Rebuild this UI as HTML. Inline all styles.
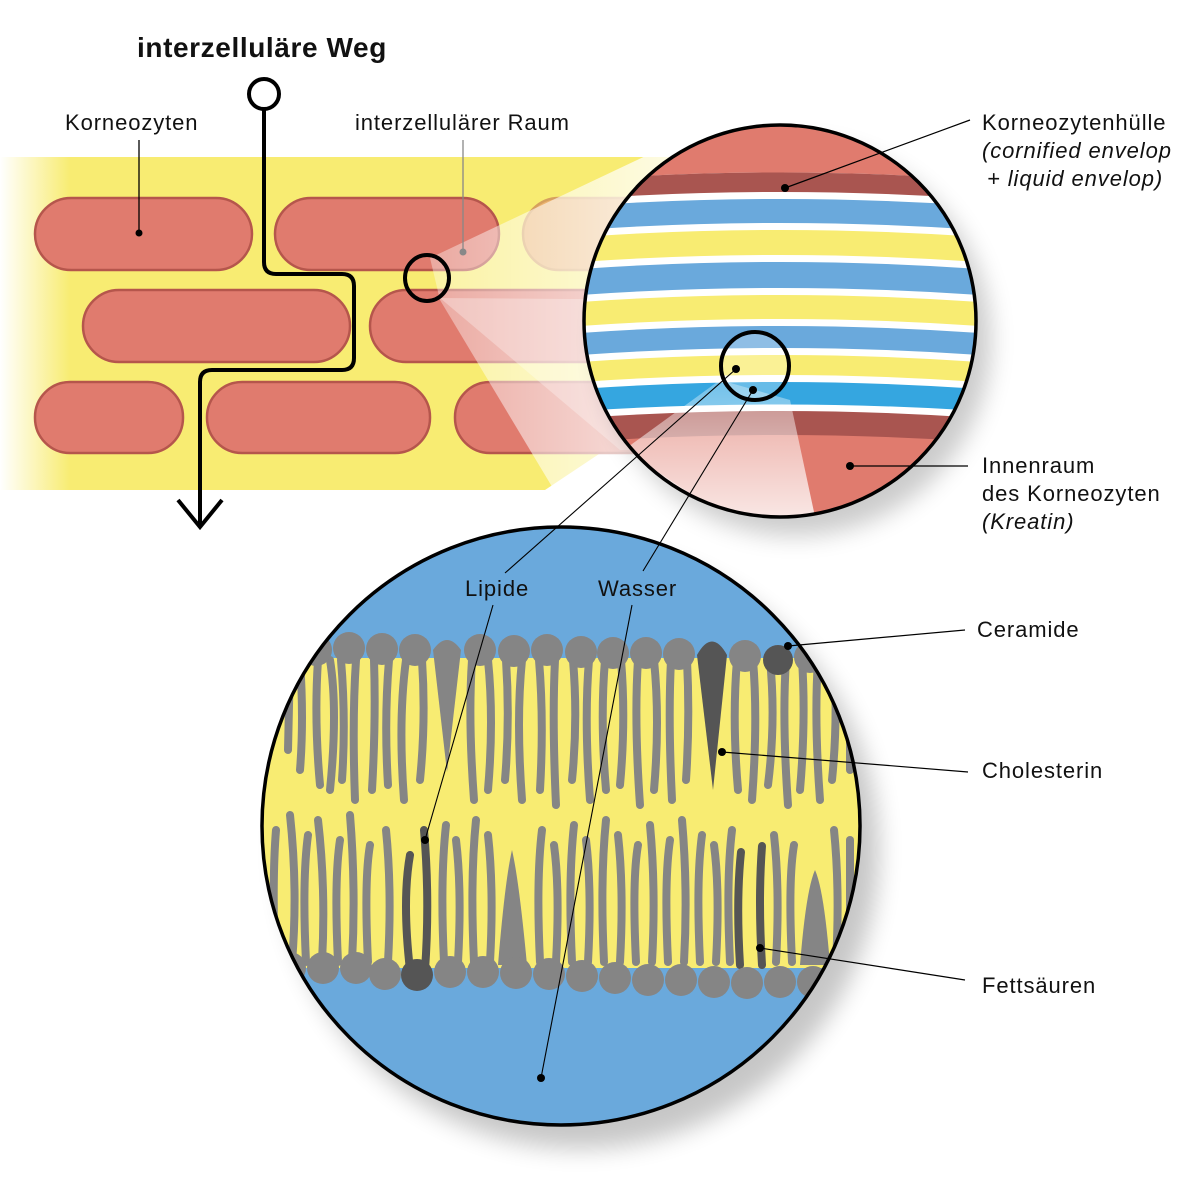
<!DOCTYPE html>
<html><head><meta charset="utf-8"><style>
html,body{margin:0;padding:0;background:#fff}
svg{display:block}
text{font-family:"Liberation Sans",sans-serif;fill:#111;letter-spacing:0.9px}
</style></head><body>
<svg width="1200" height="1200" viewBox="0 0 1200 1200" xmlns="http://www.w3.org/2000/svg">
<defs>
<linearGradient id="lg" x1="0" x2="1" y1="0" y2="0">
<stop offset="0" stop-color="#fff"/><stop offset="0.1" stop-color="#f8ec72"/><stop offset="1" stop-color="#f8ec72"/></linearGradient>
<linearGradient id="cone" x1="0" x2="1" y1="0" y2="0">
<stop offset="0" stop-color="#fff" stop-opacity="0.35"/><stop offset="1" stop-color="#fff" stop-opacity="0.85"/></linearGradient>
<linearGradient id="cone2" x1="0" x2="0" y1="0" y2="1">
<stop offset="0" stop-color="#fff" stop-opacity="0.3"/><stop offset="1" stop-color="#fff" stop-opacity="0.9"/></linearGradient>
<clipPath id="c1"><circle cx="780" cy="321" r="196"/></clipPath>
<clipPath id="c2"><circle cx="561" cy="826" r="299"/></clipPath>
<filter id="sh" x="-20%" y="-20%" width="150%" height="150%"><feGaussianBlur stdDeviation="12"/></filter>
</defs>

<polygon points="0,157 700,157 700,420 620,440 545,490 0,490" fill="url(#lg)"/>
<g fill="#e07b6e" stroke="#b5564c" stroke-width="2.5">
<rect x="35" y="198" width="217" height="72" rx="36"/>
<rect x="275" y="198" width="224" height="72" rx="36"/>
<rect x="523" y="198" width="160" height="72" rx="36" opacity="0.5"/>
<rect x="83" y="290" width="267" height="72" rx="36"/>
<rect x="370" y="290" width="300" height="72" rx="36"/>
<rect x="35" y="382" width="148" height="71" rx="35"/>
<rect x="207" y="382" width="223" height="71" rx="35"/>
<rect x="455" y="382" width="230" height="71" rx="35"/>
</g>
<polygon points="430,258 690,135 700,500 560,500 440,300" fill="url(#cone)"/>
<polygon points="440,298 620,450 700,450 700,300" fill="#fff" opacity="0.3"/>

<circle cx="264" cy="94" r="15" fill="#fff" stroke="#000" stroke-width="4"/>
<path d="M264 109 V262 Q264 274 276 274 H342 Q354 274 354 286 V358 Q354 370 342 370 H212 Q200 370 200 382 V527" fill="none" stroke="#000" stroke-width="4"/>
<polyline points="178,500 200,527 222,500" fill="none" stroke="#000" stroke-width="4"/>
<ellipse cx="427" cy="278" rx="22" ry="23" fill="none" stroke="#000" stroke-width="4"/>

<text x="137" y="57" font-size="28" font-weight="bold" style="letter-spacing:0.6px">interzelluläre Weg</text>
<text x="65" y="130" font-size="22">Korneozyten</text>
<line x1="139" y1="140" x2="139" y2="233" stroke="#000" stroke-width="1.3"/><circle cx="139" cy="233" r="3.5"/>
<text x="355" y="130" font-size="22">interzellulärer Raum</text>
<line x1="463" y1="140" x2="463" y2="252" stroke="#888" stroke-width="1.3"/><circle cx="463" cy="252" r="3.5" fill="#888"/>

<circle cx="795" cy="340" r="196" fill="#000" opacity="0.2" filter="url(#sh)"/>
<g clip-path="url(#c1)">
<rect x="580" y="120" width="400" height="420" fill="#e07b6e"/>
<path d="M580 180 Q780 165 980 180 V420 Q780 405 580 420Z" fill="#fff"/>
<path d="M580 180 Q780 165 980 180 V199 Q780 185 580 199Z" fill="#a95550"/>
<path d="M580 206 Q780 192 980 206 V230 Q780 216 580 230Z" fill="#6aa9dc"/>
<path d="M580 237 Q780 223 980 237 V262 Q780 248 580 262Z" fill="#f8ec72"/>
<path d="M580 269 Q780 255 980 269 V295 Q780 281 580 295Z" fill="#6aa9dc"/>
<path d="M580 302 Q780 288 980 302 V326 Q780 312 580 326Z" fill="#f8ec72"/>
<path d="M580 333 Q780 319 980 333 V355 Q780 341 580 355Z" fill="#6aa9dc"/>
<path d="M580 362 Q780 348 980 362 V382 Q780 368 580 382Z" fill="#f8ec72"/>
<path d="M580 389 Q780 375 980 389 V411 Q780 398 580 411Z" fill="#35a6e0"/>
<path d="M580 418 Q780 404 980 418 V442 Q780 428 580 442Z" fill="#a95550"/>
<polygon points="720,380 790,400 820,540 500,540" fill="url(#cone2)"/>
<polygon points="580,420 760,540 580,540" fill="#fff" opacity="0.5"/>
</g>
<circle cx="780" cy="321" r="196" fill="none" stroke="#000" stroke-width="3.5"/>
<circle cx="755" cy="366" r="34" fill="#fff" fill-opacity="0.25" stroke="#000" stroke-width="4"/>

<line x1="785" y1="188" x2="970" y2="120" stroke="#000" stroke-width="1.2"/><circle cx="785" cy="188" r="4"/>
<text x="982" y="130" font-size="22">Korneozytenhülle</text>
<text x="982" y="158" font-size="22" font-style="italic">(cornified envelop</text>
<text x="987" y="186" font-size="22" font-style="italic">+ liquid envelop)</text>
<line x1="850" y1="466" x2="968" y2="466" stroke="#000" stroke-width="1.2"/><circle cx="850" cy="466" r="4"/>
<text x="982" y="473" font-size="22">Innenraum</text>
<text x="982" y="501" font-size="22">des Korneozyten</text>
<text x="982" y="529" font-size="22" font-style="italic">(Kreatin)</text>

<circle cx="580" cy="850" r="299" fill="#000" opacity="0.22" filter="url(#sh)"/>
<g clip-path="url(#c2)">
<rect x="250" y="520" width="620" height="620" fill="#6aa9dc"/>
<rect x="250" y="658" width="620" height="310" fill="#f8ec72"/>
<g stroke="#858585" stroke-width="8" stroke-linecap="round" fill="none">
<path d="M290 660 L288 750"/><path d="M300 660 Q304 720 300 770"/>
<path d="M318 660 Q314 720 320 785"/><path d="M330 660 Q338 710 330 790"/>
<path d="M341 660 Q346 720 342 780"/><path d="M356 660 Q352 720 355 800"/>
<path d="M374 660 Q376 720 372 790"/><path d="M389 660 Q384 720 388 785"/>
<path d="M406 660 Q398 720 404 800"/><path d="M422 660 Q426 720 420 780"/>
<path d="M472 660 Q468 720 474 800"/><path d="M488 660 Q494 720 488 790"/>
<path d="M506 660 Q510 720 505 780"/><path d="M522 660 Q516 720 522 800"/>
<path d="M539 660 Q544 720 540 790"/><path d="M555 660 Q552 720 556 805"/>
<path d="M573 660 Q578 720 572 780"/><path d="M589 660 Q584 720 590 800"/>
<path d="M605 660 Q600 720 606 790"/><path d="M621 660 Q626 720 620 785"/>
<path d="M638 660 Q634 720 640 805"/><path d="M654 660 Q660 720 654 790"/>
<path d="M671 660 Q668 720 672 800"/><path d="M687 660 Q690 720 686 780"/>
<path d="M737 660 Q732 720 738 790"/><path d="M753 660 Q758 720 752 800"/>
<path d="M770 660 Q776 720 768 785"/><path d="M786 660 Q782 720 788 805"/>
<path d="M802 660 Q806 720 800 790"/><path d="M818 660 Q814 720 820 800"/>
<path d="M834 660 Q838 720 832 780"/><path d="M850 660 L850 770"/>
<path d="M275 962 Q272 880 276 830"/><path d="M292 962 Q298 890 290 815"/>
<path d="M306 962 Q302 880 308 835"/><path d="M322 962 Q326 890 318 820"/>
<path d="M338 962 Q334 880 340 840"/><path d="M352 962 Q356 890 350 815"/>
<path d="M368 962 Q364 880 370 845"/><path d="M388 962 Q392 890 386 830"/>
<path d="M444 962 Q440 880 446 825"/><path d="M458 962 Q462 890 456 840"/>
<path d="M474 962 Q470 880 476 820"/><path d="M490 962 Q494 890 488 835"/>
<path d="M540 962 Q536 880 542 830"/><path d="M556 962 Q560 890 554 845"/>
<path d="M572 962 Q568 880 574 825"/><path d="M588 962 Q592 890 586 840"/>
<path d="M604 962 Q600 880 606 820"/><path d="M620 962 Q624 890 618 835"/>
<path d="M636 962 Q632 880 638 845"/><path d="M652 962 Q656 890 650 825"/>
<path d="M668 962 Q664 880 670 840"/><path d="M684 962 Q688 890 682 820"/>
<path d="M700 962 Q696 880 702 835"/><path d="M716 962 Q720 890 714 845"/>
<path d="M730 962 Q726 880 732 830"/><path d="M776 962 Q780 890 774 835"/>
<path d="M792 962 Q788 880 794 845"/><path d="M836 962 Q840 890 834 830"/>
<path d="M850 962 L850 840"/>
</g>
<g stroke="#555" stroke-width="8" stroke-linecap="round" fill="none">
<path d="M410 970 Q402 900 410 855"/><path d="M425 970 Q430 900 424 830"/>
<path d="M740 965 Q736 900 741 852"/><path d="M762 965 Q758 900 762 846"/>
</g>
<path d="M433 650 Q447 630 461 650 L447 772Z" fill="#858585"/>
<path d="M697 655 Q712 628 727 655 L713 790Z" fill="#555"/>
<path d="M498 965 Q505 880 512 850 Q519 880 527 965Z" fill="#858585"/>
<path d="M800 965 Q806 890 815 870 Q824 890 830 965Z" fill="#858585"/>
<g fill="#858585">
<circle cx="316" cy="650" r="16"/><circle cx="349" cy="648" r="16"/><circle cx="382" cy="649" r="16"/><circle cx="415" cy="650" r="16"/>
<circle cx="480" cy="650" r="16"/><circle cx="514" cy="651" r="16"/><circle cx="547" cy="650" r="16"/><circle cx="581" cy="652" r="16"/>
<circle cx="613" cy="653" r="16"/><circle cx="646" cy="653" r="16"/><circle cx="679" cy="654" r="16"/><circle cx="745" cy="656" r="16"/>
<circle cx="810" cy="657" r="16"/><circle cx="843" cy="657" r="16"/>
<circle cx="290" cy="968" r="16"/><circle cx="323" cy="968" r="16"/><circle cx="356" cy="968" r="16"/><circle cx="385" cy="974" r="16"/>
<circle cx="450" cy="972" r="16"/><circle cx="483" cy="972" r="16"/><circle cx="516" cy="973" r="16"/><circle cx="549" cy="974" r="16"/>
<circle cx="582" cy="976" r="16"/><circle cx="615" cy="978" r="16"/><circle cx="648" cy="980" r="16"/><circle cx="681" cy="980" r="16"/>
<circle cx="714" cy="982" r="16"/><circle cx="747" cy="983" r="16"/><circle cx="780" cy="982" r="16"/><circle cx="813" cy="982" r="16"/><circle cx="846" cy="982" r="16"/>
</g>
<circle cx="778" cy="660" r="15" fill="#555"/>
<circle cx="417" cy="975" r="16" fill="#555"/>
</g>
<circle cx="561" cy="826" r="299" fill="none" stroke="#000" stroke-width="3.5"/>

<g stroke="#000" stroke-width="1.1">
<line x1="736" y1="369" x2="505" y2="573"/><line x1="493" y1="605" x2="425" y2="840"/>
<line x1="753" y1="390" x2="643" y2="571"/><line x1="632" y1="605" x2="541" y2="1078"/>
</g>
<circle cx="736" cy="369" r="4"/><circle cx="425" cy="840" r="4"/>
<circle cx="753" cy="390" r="4"/><circle cx="541" cy="1078" r="4"/>
<text x="465" y="596" font-size="22">Lipide</text>
<text x="598" y="596" font-size="22">Wasser</text>

<line x1="788" y1="646" x2="965" y2="630" stroke="#000" stroke-width="1.2"/><circle cx="788" cy="646" r="4"/>
<text x="977" y="637" font-size="22">Ceramide</text>
<line x1="722" y1="752" x2="968" y2="772" stroke="#000" stroke-width="1.2"/><circle cx="722" cy="752" r="4"/>
<text x="982" y="778" font-size="22">Cholesterin</text>
<line x1="760" y1="948" x2="965" y2="980" stroke="#000" stroke-width="1.2"/><circle cx="760" cy="948" r="4"/>
<text x="982" y="993" font-size="22">Fettsäuren</text>
</svg>
</body></html>
